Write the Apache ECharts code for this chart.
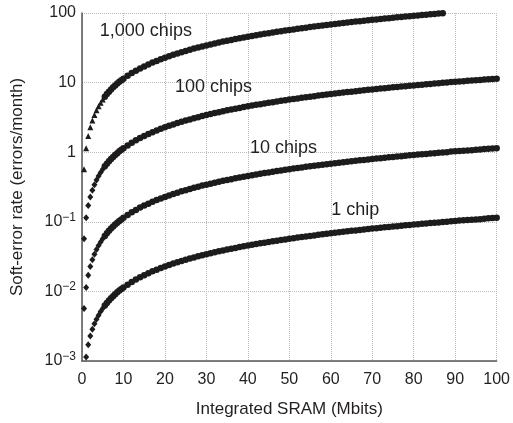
<!DOCTYPE html>
<html>
<head>
<meta charset="utf-8">
<script src="https://cdn.jsdelivr.net/npm/echarts@6/dist/echarts.min.js"></script>
<style>
html, body { margin: 0; padding: 0; background: #fff; }
#chart { width: 513px; height: 423px; }
</style>
</head>
<body>
<div id="chart"></div>
<script>
// Integrated SRAM (Mbits), shared by all curves
var xMbits = [0.5, 1, 1.5, 2, 2.5, 3, 3.5, 4, 4.5, 5, 5.5, 6, 6.5, 7, 7.5, 8, 8.5, 9, 9.5, 10,
  11, 12, 13, 14, 15, 16, 17, 18, 19, 20, 21, 22, 23, 24, 25, 26, 27, 28, 29, 30,
  31, 32, 33, 34, 35, 36, 37, 38, 39, 40, 41, 42, 43, 44, 45, 46, 47, 48, 49, 50,
  51, 52, 53, 54, 55, 56, 57, 58, 59, 60, 61, 62, 63, 64, 65, 66, 67, 68, 69, 70,
  71, 72, 73, 74, 75, 76, 77, 78, 79, 80, 81, 82, 83, 84, 85, 86, 87, 88, 89, 90,
  91, 92, 93, 94, 95, 96, 97, 98, 99, 100];

// soft-error rate (errors/month)
var chips1000 = [0.57, 1.14, 1.71, 2.28, 2.85, 3.42, 3.99, 4.56, 5.13, 5.7, 6.27, 6.84, 7.41, 7.98, 8.55, 9.12, 9.69, 10.3, 10.8, 11.4,
  12.5, 13.7, 14.8, 16.0, 17.1, 18.2, 19.4, 20.5, 21.7, 22.8, 23.9, 25.1, 26.2, 27.4, 28.5, 29.6, 30.8, 31.9, 33.1, 34.2,
  35.3, 36.5, 37.6, 38.8, 39.9, 41.0, 42.2, 43.3, 44.5, 45.6, 46.7, 47.9, 49.0, 50.2, 51.3, 52.4, 53.6, 54.7, 55.9, 57.0,
  58.1, 59.3, 60.4, 61.6, 62.7, 63.8, 65.0, 66.1, 67.3, 68.4, 69.5, 70.7, 71.8, 73.0, 74.1, 75.2, 76.4, 77.5, 78.7, 79.8,
  80.9, 82.1, 83.2, 84.4, 85.5, 86.6, 87.8, 88.9, 90.1, 91.2, 92.3, 93.5, 94.6, 95.8, 96.9, 98.0, 99.2];
var chips100 = [0.057, 0.114, 0.171, 0.228, 0.285, 0.342, 0.399, 0.456, 0.513, 0.57, 0.627, 0.684, 0.741, 0.798, 0.855, 0.912, 0.969, 1.03, 1.08, 1.14,
  1.25, 1.37, 1.48, 1.60, 1.71, 1.82, 1.94, 2.05, 2.17, 2.28, 2.39, 2.51, 2.62, 2.74, 2.85, 2.96, 3.08, 3.19, 3.31, 3.42,
  3.53, 3.65, 3.76, 3.88, 3.99, 4.10, 4.22, 4.33, 4.45, 4.56, 4.67, 4.79, 4.90, 5.02, 5.13, 5.24, 5.36, 5.47, 5.59, 5.70,
  5.81, 5.93, 6.04, 6.16, 6.27, 6.38, 6.50, 6.61, 6.73, 6.84, 6.95, 7.07, 7.18, 7.30, 7.41, 7.52, 7.64, 7.75, 7.87, 7.98,
  8.09, 8.21, 8.32, 8.44, 8.55, 8.66, 8.78, 8.89, 9.01, 9.12, 9.23, 9.35, 9.46, 9.58, 9.69, 9.80, 9.92, 10.0, 10.2, 10.3,
  10.4, 10.5, 10.6, 10.7, 10.8, 10.9, 11.1, 11.2, 11.3, 11.4];
var chips10 = [0.0057, 0.0114, 0.0171, 0.0228, 0.0285, 0.0342, 0.0399, 0.0456, 0.0513, 0.057, 0.0627, 0.0684, 0.0741, 0.0798, 0.0855, 0.0912, 0.0969, 0.103, 0.108, 0.114,
  0.125, 0.137, 0.148, 0.160, 0.171, 0.182, 0.194, 0.205, 0.217, 0.228, 0.239, 0.251, 0.262, 0.274, 0.285, 0.296, 0.308, 0.319, 0.331, 0.342,
  0.353, 0.365, 0.376, 0.388, 0.399, 0.410, 0.422, 0.433, 0.445, 0.456, 0.467, 0.479, 0.490, 0.502, 0.513, 0.524, 0.536, 0.547, 0.559, 0.570,
  0.581, 0.593, 0.604, 0.616, 0.627, 0.638, 0.650, 0.661, 0.673, 0.684, 0.695, 0.707, 0.718, 0.730, 0.741, 0.752, 0.764, 0.775, 0.787, 0.798,
  0.809, 0.821, 0.832, 0.844, 0.855, 0.866, 0.878, 0.889, 0.901, 0.912, 0.923, 0.935, 0.946, 0.958, 0.969, 0.980, 0.992, 1.00, 1.02, 1.03,
  1.04, 1.05, 1.06, 1.07, 1.08, 1.09, 1.11, 1.12, 1.13, 1.14];
var chips1 = [null, 0.00114, 0.00171, 0.00228, 0.00285, 0.00342, 0.00399, 0.00456, 0.00513, 0.0057, 0.00627, 0.00684, 0.00741, 0.00798, 0.00855, 0.00912, 0.00969, 0.0103, 0.0108, 0.0114,
  0.0125, 0.0137, 0.0148, 0.0160, 0.0171, 0.0182, 0.0194, 0.0205, 0.0217, 0.0228, 0.0239, 0.0251, 0.0262, 0.0274, 0.0285, 0.0296, 0.0308, 0.0319, 0.0331, 0.0342,
  0.0353, 0.0365, 0.0376, 0.0388, 0.0399, 0.0410, 0.0422, 0.0433, 0.0445, 0.0456, 0.0467, 0.0479, 0.0490, 0.0502, 0.0513, 0.0524, 0.0536, 0.0547, 0.0559, 0.0570,
  0.0581, 0.0593, 0.0604, 0.0616, 0.0627, 0.0638, 0.0650, 0.0661, 0.0673, 0.0684, 0.0695, 0.0707, 0.0718, 0.0730, 0.0741, 0.0752, 0.0764, 0.0775, 0.0787, 0.0798,
  0.0809, 0.0821, 0.0832, 0.0844, 0.0855, 0.0866, 0.0878, 0.0889, 0.0901, 0.0912, 0.0923, 0.0935, 0.0946, 0.0958, 0.0969, 0.0980, 0.0992, 0.100, 0.102, 0.103,
  0.104, 0.105, 0.106, 0.107, 0.108, 0.109, 0.111, 0.112, 0.113, 0.114];

var curveNames = ['1,000 chips', '100 chips', '10 chips', '1 chip'];

var textColor = '#231f20';
var font = 'Liberation Sans';

// label anchor of each curve, in data units
var labelAt = [[15.4, 55], [31.7, 8.7], [48.6, 1.16], [65.9, 0.146]];

// sparse steep part: small marks; dense part: round marks that merge into a thick line
function pairs(ys, lowSymbol) {
  var out = [];
  for (var i = 0; i < ys.length; i++) {
    if (ys[i] == null) continue;
    var item = { value: [xMbits[i], ys[i]] };
    if (xMbits[i] <= 5) {
      item.symbol = lowSymbol;
      item.symbolSize = lowSymbol == 'triangle' ? [6, 6] : [6, 7];
    }
    out.push(item);
  }
  return out;
}

function curve(idx, ys, lowSymbol) {
  return {
    name: curveNames[idx],
    type: 'scatter',
    symbol: 'circle',
    symbolSize: 6.5,
    itemStyle: { color: '#1e1b1c', opacity: 1 },
    clip: true,
    data: pairs(ys, lowSymbol),
    markPoint: {
      symbol: 'circle',
      symbolSize: 0,
      silent: true,
      label: {
        show: true,
        position: 'inside',
        formatter: curveNames[idx],
        color: textColor,
        fontFamily: font,
        fontSize: 18
      },
      data: [{ coord: labelAt[idx] }]
    }
  };
}

var chart = echarts.init(document.getElementById('chart'));
var option = {
  animation: false,
  backgroundColor: '#fff',
  grid: { left: 82, right: 15, top: 13, bottom: 61 },
  xAxis: {
    type: 'value',
    min: 0,
    max: 100,
    interval: 10,
    name: 'Integrated SRAM (Mbits)',
    nameLocation: 'middle',
    nameGap: 40,
    nameTextStyle: { color: textColor, fontFamily: font, fontSize: 17 },
    axisLine: { show: true, lineStyle: { color: '#555', width: 1.5 } },
    axisTick: { show: false },
    axisLabel: { color: textColor, fontFamily: font, fontSize: 16, margin: 11 },
    splitLine: { show: true, lineStyle: { color: '#bbb', type: 'dotted', width: 1 } }
  },
  yAxis: {
    type: 'log',
    logBase: 10,
    min: 0.001,
    max: 100,
    name: 'Soft-error rate (errors/month)',
    nameLocation: 'middle',
    nameGap: 56,
    nameTextStyle: { color: textColor, fontFamily: font, fontSize: 17 },
    axisLine: { show: true, lineStyle: { color: '#555', width: 1.5 } },
    axisTick: { show: false },
    axisLabel: {
      color: textColor,
      fontFamily: font,
      fontSize: 16,
      margin: 6,
      formatter: function (v) {
        if (v >= 1) return '' + Math.round(v);
        var e = Math.round(Math.log10(v));
        return '10{sup|\u2212' + (-e) + '}';
      },
      rich: {
        sup: { fontSize: 12, fontFamily: font, color: textColor, padding: [0, 0, 9, 0] }
      }
    },
    splitLine: { show: true, lineStyle: { color: '#bbb', type: 'dotted', width: 1 } }
  },
  series: [
    curve(0, chips1000, 'triangle'),
    curve(1, chips100, 'diamond'),
    curve(2, chips10, 'diamond'),
    curve(3, chips1, 'diamond')
  ]
};
chart.setOption(option);
</script>
</body>
</html>
